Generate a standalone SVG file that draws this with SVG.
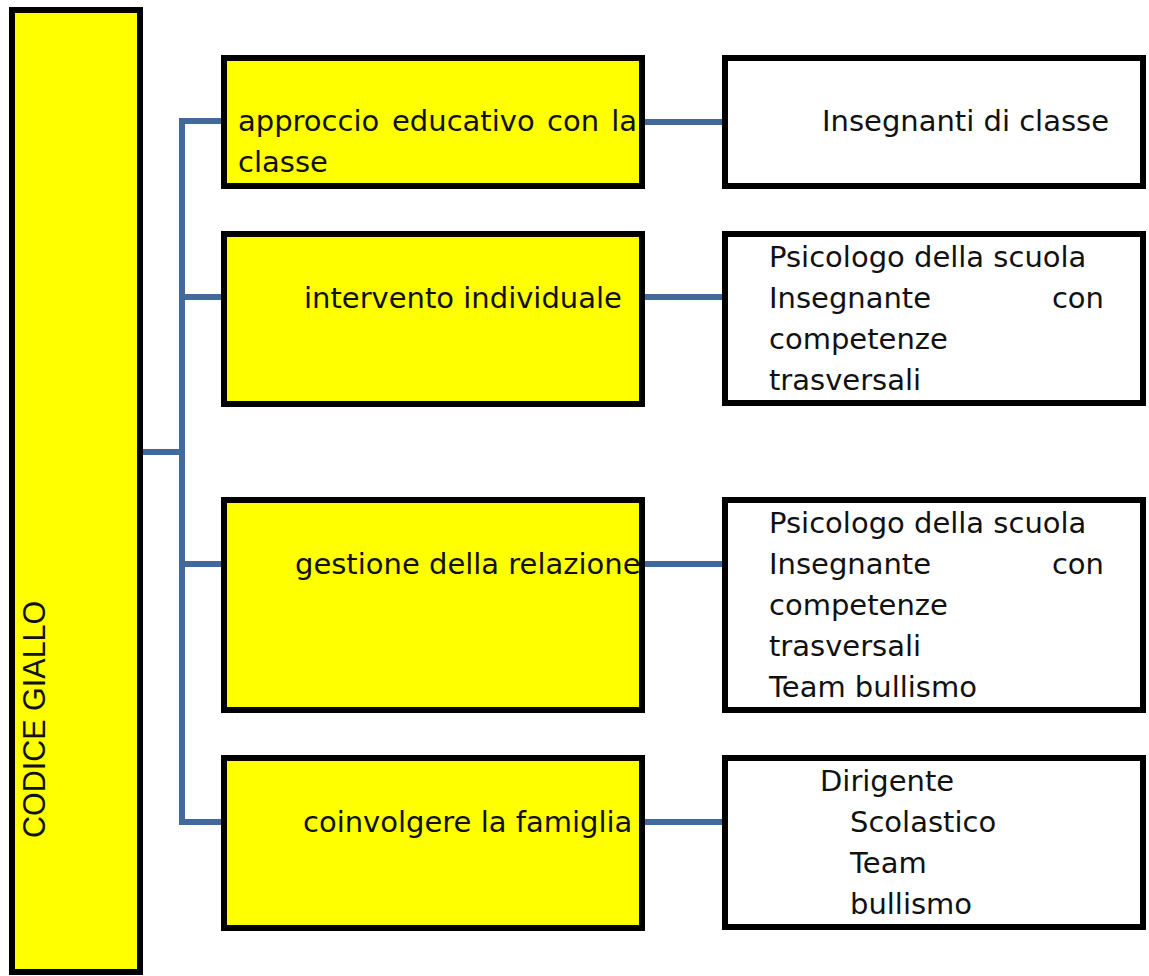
<svg xmlns="http://www.w3.org/2000/svg" width="1149" height="976" viewBox="0 0 1149 976">
<style>
.y{fill:#FFFF00;stroke:#000;stroke-width:6}
.w{fill:#FFFFFF;stroke:#000;stroke-width:6}
.t{font-family:"DejaVu Sans",Verdana,sans-serif;font-size:29px;fill:#111}
.c{fill:none;stroke:#41699B;stroke-width:6;stroke-linecap:butt}
</style>
<rect width="1149" height="976" fill="#fff"/>
<g id="connectors">
<polyline class="c" points="222,121 182,121 182,825"/>
<line class="c" x1="143" y1="452" x2="182" y2="452"/>
<line class="c" x1="182" y1="297" x2="222" y2="297"/>
<line class="c" x1="182" y1="564" x2="222" y2="564"/>
<line class="c" x1="182" y1="822" x2="222" y2="822"/>
<line class="c" x1="645" y1="122" x2="722" y2="122"/>
<line class="c" x1="645" y1="297" x2="722" y2="297"/>
<line class="c" x1="645" y1="564" x2="722" y2="564"/>
<line class="c" x1="645" y1="822" x2="722" y2="822"/>
</g>
<g id="codice-giallo">
<rect class="y" x="12" y="10" width="128" height="962"/>
<text transform="translate(45,838) rotate(-90)" style="font-family:'Liberation Sans',Arial,sans-serif;font-size:30.5px;fill:#111">CODICE GIALLO</text>
</g>
<g id="approccio">
<rect class="y" x="224" y="58" width="418" height="128"/>
<text class="t" y="131"><tspan x="238">approccio</tspan><tspan x="392">educativo</tspan><tspan x="547">con</tspan><tspan x="637" text-anchor="end">la</tspan></text>
<text class="t" x="238" y="172">classe</text>
</g>
<g id="insegnanti">
<rect class="w" x="725" y="58" width="418" height="128"/>
<text class="t" x="822" y="131">Insegnanti di classe</text>
</g>
<g id="intervento">
<rect class="y" x="224" y="234" width="418" height="170"/>
<text class="t" x="304" y="308">intervento individuale</text>
</g>
<g id="psicologo1">
<rect class="w" x="725" y="234" width="418" height="169"/>
<text class="t" x="769" y="267">Psicologo della scuola</text>
<text class="t" x="769" y="308">Insegnante</text>
<text class="t" x="1104" y="308" text-anchor="end">con</text>
<text class="t" x="769" y="349">competenze</text>
<text class="t" x="769" y="390">trasversali</text>
</g>
<g id="gestione">
<rect class="y" x="224" y="500" width="418" height="210"/>
<text class="t" x="295" y="574">gestione della relazione</text>
</g>
<g id="psicologo2">
<rect class="w" x="725" y="500" width="418" height="210"/>
<text class="t" x="769" y="533">Psicologo della scuola</text>
<text class="t" x="769" y="574">Insegnante</text>
<text class="t" x="1104" y="574" text-anchor="end">con</text>
<text class="t" x="769" y="615">competenze</text>
<text class="t" x="769" y="656">trasversali</text>
<text class="t" x="769" y="697">Team bullismo</text>
</g>
<g id="coinvolgere">
<rect class="y" x="224" y="758" width="418" height="170"/>
<text class="t" x="303" y="832">coinvolgere la famiglia</text>
</g>
<g id="dirigente">
<rect class="w" x="725" y="758" width="418" height="169"/>
<text class="t" x="820" y="791">Dirigente</text>
<text class="t" x="850" y="832">Scolastico</text>
<text class="t" x="850" y="873">Team</text>
<text class="t" x="850" y="914">bullismo</text>
</g>
</svg>
